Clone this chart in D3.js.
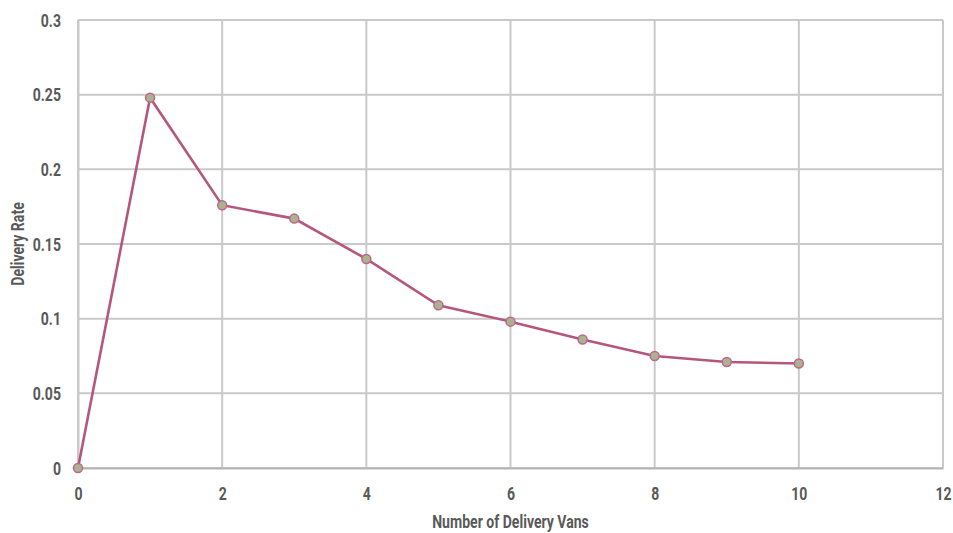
<!DOCTYPE html>
<html>
<head>
<meta charset="utf-8">
<script src="https://cdn.jsdelivr.net/npm/d3@7/dist/d3.min.js"></script>
<style>
  html, body { margin: 0; padding: 0; background: #fff; }
  svg text { font-family: Roboto, "DejaVu Sans", sans-serif; font-weight: bold; fill: #595959; }
</style>
</head>
<body>
<svg id="chart" width="953" height="533"></svg>
<script>
// Delivery rate by fleet size
const vans = [0, 1, 2, 3, 4, 5, 6, 7, 8, 9, 10];
const deliveryRate = [0, 0.248, 0.176, 0.167, 0.140, 0.109, 0.098, 0.086, 0.075, 0.071, 0.070];
const xTicks = [0, 2, 4, 6, 8, 10, 12];
const yTicks = [0, 0.05, 0.1, 0.15, 0.2, 0.25, 0.3];
const yTickLabels = ["0", "0.05", "0.1", "0.15", "0.2", "0.25", "0.3"];

const svg = d3.select("#chart");
const margin = { left: 78, right: 10, top: 20, bottom: 65 };
const W = 953, H = 533;
const FS = 19;      // label size
const SX = 0.74;    // horizontal squeeze for a condensed look

const x = d3.scaleLinear().domain([0, 12]).range([margin.left, W - margin.right]);
const y = d3.scaleLinear().domain([0, 0.3]).range([H - margin.bottom, margin.top]);

// grid
const grid = svg.append("g");
grid.selectAll("line.h").data(yTicks).join("line")
  .attr("x1", x(0)).attr("x2", x(12))
  .attr("y1", d => y(d)).attr("y2", d => y(d))
  .attr("stroke", "#c9c9c9").attr("stroke-width", 2);
grid.selectAll("line.v").data(xTicks).join("line")
  .attr("y1", y(0)).attr("y2", y(0.3))
  .attr("x1", d => x(d)).attr("x2", d => x(d))
  .attr("stroke", "#c9c9c9").attr("stroke-width", 2);

// axes
const xAxis = d3.axisBottom(x).tickValues(xTicks).tickSize(0).tickPadding(19).tickFormat(d3.format("d"));
const yAxis = d3.axisLeft(y).tickValues(yTicks).tickSize(0).tickPadding(17)
  .tickFormat((d, i) => yTickLabels[i]);

const gx = svg.append("g").attr("transform", `translate(0,${y(0)})`).call(xAxis);
gx.select(".domain").attr("stroke", "#b5b5b5").attr("stroke-width", 2);
gx.selectAll("text").attr("font-size", FS).attr("transform", `scale(${SX},1)`);

const gy = svg.append("g").attr("transform", `translate(${x(0)},0)`).call(yAxis);
gy.select(".domain").attr("stroke", "#c9c9c9").attr("stroke-width", 2);
gy.selectAll("text").attr("font-size", FS)
  .attr("x", -17 / SX).attr("transform", `scale(${SX},1)`);

// axis titles
svg.append("text")
  .attr("transform", `translate(${(x(0) + x(12)) / 2},528) scale(${SX},1)`)
  .attr("text-anchor", "middle").attr("font-size", FS).text("Number of Delivery Vans");
svg.append("text")
  .attr("transform", `translate(24,${(y(0) + y(0.3)) / 2}) rotate(-90) scale(${SX},1)`)
  .attr("text-anchor", "middle").attr("font-size", FS).text("Delivery Rate");

// series
const pts = vans.map((v, i) => [v, deliveryRate[i]]);
svg.append("path").datum(pts)
  .attr("fill", "none").attr("stroke", "#b5577c").attr("stroke-width", 2.6)
  .attr("d", d3.line().x(d => x(d[0])).y(d => y(d[1])));
svg.selectAll("circle.pt").data(pts).join("circle")
  .attr("cx", d => x(d[0])).attr("cy", d => y(d[1])).attr("r", 4.5)
  .attr("fill", "#a9b38f").attr("stroke", "#c0668a").attr("stroke-width", 1.5);
</script>
</body>
</html>
